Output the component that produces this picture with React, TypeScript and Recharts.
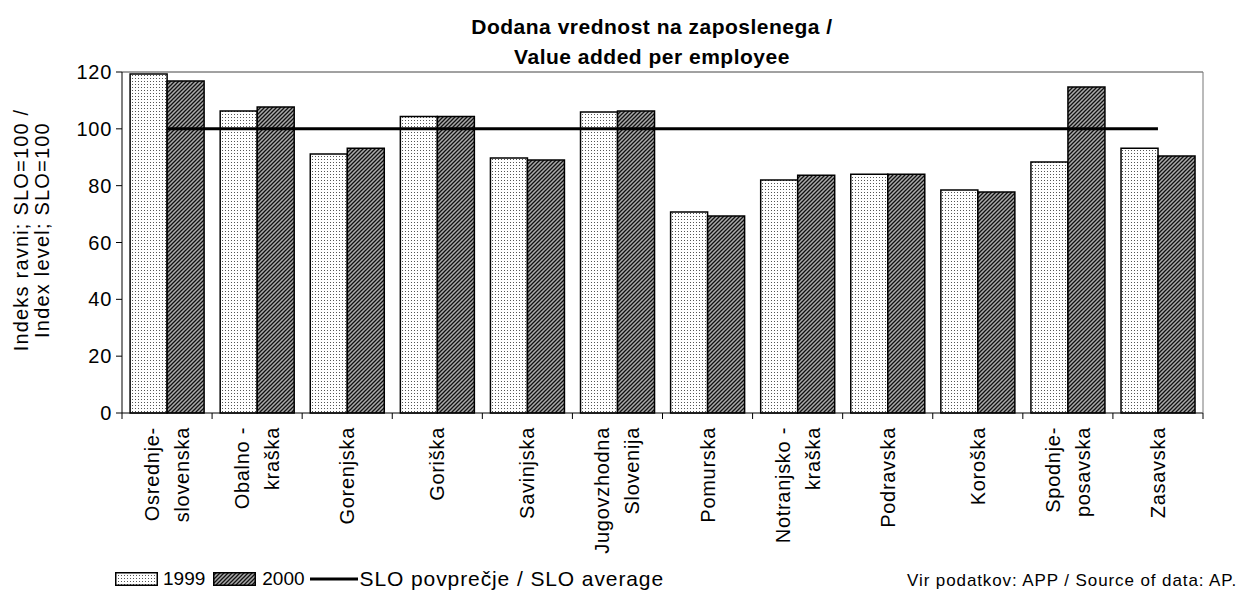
import React from "react";
import { ComposedChart, Bar, Line, XAxis, YAxis, ReferenceLine } from "recharts";

const categories = [
  "Osrednje-\nslovenska",
  "Obalno -\nkraška",
  "Gorenjska",
  "Goriška",
  "Savinjska",
  "Jugovzhodna\nSlovenija",
  "Pomurska",
  "Notranjsko -\nkraška",
  "Podravska",
  "Koroška",
  "Spodnje-\nposavska",
  "Zasavska",
];
const values1999 = [119.3, 106.3, 91.1, 104.3, 89.7, 105.9, 70.7, 82.0, 84.0, 78.5, 88.3, 93.2];
const values2000 = [116.8, 107.7, 93.2, 104.3, 89.0, 106.3, 69.3, 83.7, 84.0, 77.8, 114.7, 90.4];
const sloAverage = [100, 100, 100, 100, 100, 100, 100, 100, 100, 100, 100, 100];
const yTicks = [0, 20, 40, 60, 80, 100, 120];

const data = categories.map((c, i) => ({
  cat: c,
  v1999: values1999[i],
  v2000: values2000[i],
  avg: sloAverage[i],
}));

const FONT = '"Liberation Sans", Arial, sans-serif';
const FS = 20;
const LS = 0.7;
const PLOT_LEFT = 122;
const PLOT_RIGHT = 1203;
const BAND = (PLOT_RIGHT - PLOT_LEFT) / categories.length;

const Patterns = () => (
  <defs>
    <pattern id="dots1999" width="3" height="3" patternUnits="userSpaceOnUse">
      <rect width="3" height="3" fill="#fff" />
      <rect x="0" y="0" width="1" height="1" fill="#555" />
    </pattern>
    <pattern id="hatch2000" width="4" height="4" patternUnits="userSpaceOnUse">
      <rect width="4" height="4" fill="#aaa" />
      <path d="M-1,1 l2,-2 M0,4 l4,-4 M3,5 l2,-2" stroke="#111" strokeWidth="1.3" />
    </pattern>
  </defs>
);

const CatTick = (props: any) => {
  const { x, y, payload, index } = props;
  const lines = String(payload.value).split("\n");
  const y0 = y;
  const left = x - BAND / 2;
  const offsets = lines.length === 2 ? [-15, 15] : [0];
  return (
    <g>
      <line x1={left} y1={y0} x2={left} y2={y0 + 6} stroke="#000" strokeWidth={1} />
      {index === categories.length - 1 && (
        <line x1={x + BAND / 2} y1={y0} x2={x + BAND / 2} y2={y0 + 6} stroke="#000" strokeWidth={1} />
      )}
      {lines.map((l, i) => {
        const tx = x + offsets[i];
        const ty = y0 + 14;
        return (
          <text
            key={i}
            x={tx}
            y={ty}
            transform={`rotate(-90, ${tx}, ${ty})`}
            textAnchor="end"
            dominantBaseline="central"
            fontSize={FS}
            letterSpacing={LS}
            fontFamily={FONT}
            fill="#000"
          >
            {l}
          </text>
        );
      })}
    </g>
  );
};

export default function App() {
  return (
    <div style={{ position: "absolute", left: 0, top: 0, width: 1257, height: 594, background: "#fff", fontFamily: FONT }}>
      <div
        style={{
          position: "absolute",
          left: 652,
          top: 12,
          transform: "translateX(-50%)",
          textAlign: "center",
          fontWeight: "bold",
          fontSize: 21,
          letterSpacing: 0.5,
          lineHeight: "30px",
          whiteSpace: "nowrap",
          color: "#000",
        }}
      >
        Dodana vrednost na zaposlenega /<br />Value added per employee
      </div>
      <ComposedChart
        width={1257}
        height={594}
        data={data}
        margin={{ top: 72, right: 4, bottom: 41, left: 62 }}
        barCategoryGap="9%"
        barGap={0}
        style={{ fontFamily: FONT }}
      >
        <Patterns />
        <XAxis
          dataKey="cat"
          interval={0}
          tickLine={false}
          tickSize={0}
          tickMargin={0}
          height={140}
          axisLine={{ stroke: "#000", strokeWidth: 1 }}
          tick={<CatTick />}
        />
        <YAxis
          yAxisId="left"
          width={60}
          domain={[0, 120]}
          ticks={yTicks}
          tickSize={6}
          tickMargin={4}
          axisLine={{ stroke: "#000" }}
          tickLine={{ stroke: "#000" }}
          tick={{ fontSize: FS, fill: "#000", fontFamily: FONT, letterSpacing: LS }}
        />
        <YAxis
          yAxisId="right"
          orientation="right"
          width={50}
          domain={[0, 120]}
          ticks={yTicks}
          tickSize={6}
          tickMargin={4}
          axisLine={{ stroke: "#777" }}
          tickLine={{ stroke: "#000" }}
          tick={{ fontSize: FS, fill: "#000", fontFamily: FONT, letterSpacing: LS }}
        />
        <ReferenceLine yAxisId="left" y={120} stroke="#444" strokeWidth={1} />
        <Bar yAxisId="left" dataKey="v1999" fill="url(#dots1999)" stroke="#000" strokeWidth={1.5} isAnimationActive={false} />
        <Bar yAxisId="left" dataKey="v2000" fill="url(#hatch2000)" stroke="#000" strokeWidth={1.5} isAnimationActive={false} />
        <Line yAxisId="left" dataKey="avg" stroke="#000" strokeWidth={3} dot={false} activeDot={false} isAnimationActive={false} />
      </ComposedChart>
      <div
        style={{
          position: "absolute",
          left: 32,
          top: 230,
          transform: "translate(-50%, -50%) rotate(-90deg)",
          textAlign: "center",
          fontSize: FS,
          letterSpacing: 1.2,
          lineHeight: "21px",
          whiteSpace: "nowrap",
          color: "#000",
        }}
      >
        Indeks ravni; SLO=100 /<br />Index level; SLO=100
      </div>
      <div style={{ position: "absolute", left: 115, top: 567, height: 24, display: "flex", alignItems: "center", fontSize: 19, color: "#000", whiteSpace: "nowrap" }}>
        <svg width={43} height={14} style={{ marginRight: 5 }}>
          <Patterns />
          <rect x={0.75} y={0.75} width={41.5} height={12.5} fill="url(#dots1999)" stroke="#000" strokeWidth={1.5} />
        </svg>
        <span style={{ marginRight: 8 }}>1999</span>
        <svg width={43} height={14} style={{ marginRight: 6 }}>
          <rect x={0.75} y={0.75} width={41.5} height={12.5} fill="url(#hatch2000)" stroke="#000" strokeWidth={1.5} />
        </svg>
        <span style={{ marginRight: 5 }}>2000</span>
        <svg width={48} height={14} style={{ marginRight: 2 }}>
          <line x1={0} y1={7} x2={48} y2={7} stroke="#000" strokeWidth={3} />
        </svg>
        <span style={{ fontSize: 21, letterSpacing: 0.9 }}>SLO povprečje / SLO average</span>
      </div>
      <div style={{ position: "absolute", right: 20, top: 571, fontSize: 17, letterSpacing: 0.9, color: "#000", whiteSpace: "nowrap" }}>
        Vir podatkov: APP / Source of data: AP.
      </div>
    </div>
  );
}
